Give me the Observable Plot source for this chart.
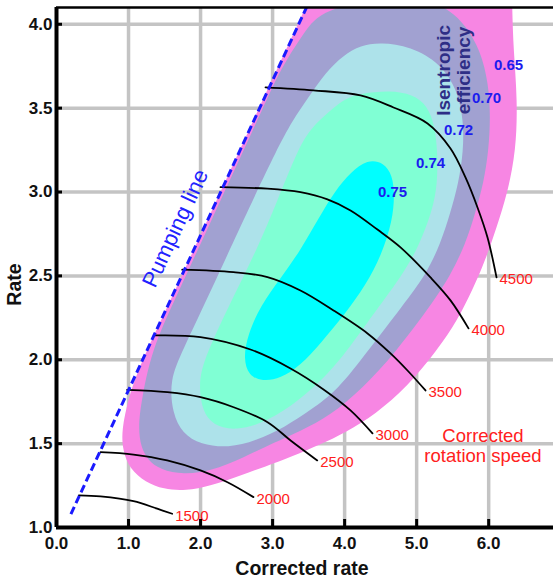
<!DOCTYPE html>
<html>
<head>
<meta charset="utf-8">
<script src="https://cdn.jsdelivr.net/npm/d3@7"></script>
<script src="https://cdn.jsdelivr.net/npm/@observablehq/plot@0.6"></script>
<style>
  html, body { margin: 0; padding: 0; background: #fff; }
  #chart svg { display: block; }
</style>
</head>
<body>
<div id="chart"></div>
<script>
// Compressor map: isentropic efficiency islands, corrected speed lines, surge (pumping) line.

const xTicks = [0, 1, 2, 3, 4, 5, 6];
const yTicks = [1.0, 1.5, 2.0, 2.5, 3.0, 3.5, 4.0];
const xGrid = [1, 2, 3, 4, 5, 6];
const yGrid = [1.5, 2.0, 2.5, 3.0, 3.5, 4.0];

// Efficiency island outlines [corrected rate, rate]
const eff065 = [[3.98,4.58],[3.762,4.381],[3.568,4.202],[3.374,4.023],[2.541,3.248],[1.583,2.354],[1.166,1.978],[1.000,1.775],[0.902,1.578],[0.920,1.459],[1.015,1.350],[1.236,1.270],[1.486,1.228],[1.791,1.218],[2.138,1.248],[2.554,1.310],[2.902,1.364],[3.249,1.420],[3.665,1.495],[4.012,1.567],[4.429,1.675],[4.873,1.840],[5.290,2.060],[5.560,2.230],[5.780,2.420],[5.960,2.600],[6.110,2.790],[6.260,2.990],[6.380,3.248],[6.400,3.546],[6.345,3.844],[6.325,4.100],[6.317,4.381],[6.31,4.58]];
const eff070 = [[3.124,3.743],[3.429,3.946],[3.596,4.040],[3.873,4.100],[4.262,4.135],[4.707,4.150],[5.192,4.135],[5.470,4.083],[5.678,3.993],[5.887,3.844],[5.997,3.648],[6.025,3.450],[6.000,3.248],[5.928,3.051],[5.817,2.880],[5.678,2.690],[5.470,2.503],[5.206,2.330],[4.707,2.044],[4.248,1.829],[3.804,1.668],[3.387,1.575],[3.013,1.505],[2.596,1.417],[2.138,1.335],[1.763,1.315],[1.444,1.345],[1.270,1.400],[1.170,1.480],[1.135,1.600],[1.180,1.757],[1.319,2.055],[1.638,2.354],[2.277,2.950],[2.915,3.546]];
const eff072 = [[3.984,3.815],[4.221,3.874],[4.498,3.892],[4.915,3.868],[5.331,3.767],[5.567,3.606],[5.650,3.427],[5.650,3.248],[5.581,3.051],[5.470,2.880],[5.330,2.690],[5.123,2.503],[4.817,2.330],[4.318,2.050],[3.901,1.817],[3.526,1.700],[3.179,1.600],[2.763,1.515],[2.388,1.475],[1.999,1.495],[1.749,1.561],[1.610,1.680],[1.569,1.877],[1.749,2.055],[2.082,2.354],[2.721,2.950],[3.054,3.248],[3.276,3.427],[3.499,3.564],[3.735,3.713]];
const eff074 = [[4.012,3.558],[4.221,3.588],[4.637,3.606],[4.942,3.582],[5.151,3.516],[5.248,3.397],[5.290,3.248],[5.290,3.051],[5.220,2.890],[5.026,2.670],[4.776,2.490],[4.498,2.330],[4.040,2.055],[3.735,1.900],[3.387,1.765],[2.929,1.630],[2.485,1.575],[2.166,1.610],[2.027,1.698],[1.985,1.817],[1.999,1.936],[2.166,2.115],[2.430,2.354],[2.777,2.652],[3.068,2.950],[3.346,3.248],[3.526,3.379],[3.804,3.487]];
const eff075 = [[4.318,3.194],[4.540,3.177],[4.665,3.099],[4.693,2.980],[4.665,2.831],[4.512,2.622],[4.290,2.443],[4.012,2.276],[3.665,2.097],[3.387,1.966],[3.110,1.888],[2.860,1.871],[2.666,1.906],[2.596,2.008],[2.652,2.145],[2.832,2.324],[3.110,2.485],[3.387,2.652],[3.637,2.843],[3.873,3.010],[4.082,3.117]];

const effLevels = [0.65, 0.70, 0.72, 0.74, 0.75];
const effColors = ["#f786e3", "#a1a1d1", "#ade2ea", "#80ffd4", "#00ffff"];
const effLabelX = [6.275, 5.970, 5.581, 5.192, 4.665];
const effLabelY = [3.755, 3.558, 3.367, 3.171, 2.998];

// Corrected speed lines
const speeds = [1500, 2000, 2500, 3000, 3500, 4000, 4500];
const n1500 = [[0.31,1.191],[0.611,1.185],[1.069,1.157],[1.398,1.112],[1.606,1.082]];
const n2000 = [[0.611,1.449],[1.069,1.435],[1.537,1.400],[1.999,1.340],[2.374,1.270],[2.735,1.181]];
const n2500 = [[0.98,1.821],[1.54,1.807],[2.0,1.777],[2.46,1.717],[2.93,1.628],[3.25,1.519],[3.62,1.40]];
const n3000 = [[1.351,2.145],[1.999,2.135],[2.693,2.061],[3.249,1.948],[3.707,1.823],[4.082,1.698],[4.387,1.561]];
const n3500 = [[1.745,2.537],[2.457,2.522],[2.929,2.493],[3.387,2.413],[3.846,2.294],[4.318,2.157],[4.637,2.038],[4.873,1.936],[5.123,1.817]];
const n4000 = [[2.277,3.029],[2.929,3.020],[3.387,2.999],[3.762,2.956],[4.082,2.890],[4.456,2.776],[4.776,2.670],[5.192,2.491],[5.470,2.354],[5.720,2.187]];
const n4500 = [[2.902,3.624],[3.568,3.606],[4.221,3.576],[4.679,3.504],[5.151,3.409],[5.470,3.260],[5.678,3.087],[5.845,2.908],[5.984,2.729],[6.109,2.491]];

// Pumping (surge) line
const pumpLine = [[0.2, 1.08], [3.47, 4.1]];

const speedCurves = [n1500, n2000, n2500, n3000, n3500, n4000, n4500];
const speedRows = speeds.flatMap((s, i) => speedCurves[i].map(([x, y]) => ({speed: s, x, y})));
const speedEnds = speeds.map((s, i) => {
  const p = speedCurves[i][speedCurves[i].length - 1];
  return {speed: s, x: p[0], y: p[1]};
});
const effOutlines = [eff065, eff070, eff072, eff074, eff075];
const effLabels = effLevels.map((v, i) => ({v, x: effLabelX[i], y: effLabelY[i]}));

const font = "'Liberation Sans', Arial, Helvetica, sans-serif";

const island = (pts, color) => Plot.line(pts, {
  x: d => d[0], y: d => d[1], fill: color, stroke: "none",
  curve: "basis-closed", clip: true
});

const chart = Plot.plot({
  width: 553,
  height: 583,
  marginLeft: 56,
  marginRight: 0,
  marginTop: 7,
  marginBottom: 56,
  x: {domain: [0, 6.9]},
  y: {domain: [1, 4.1]},
  style: {fontFamily: font, color: "#111", background: "#fff"},
  marks: [
    Plot.ruleX(xGrid, {stroke: "#c4c4c4", strokeWidth: 3.5}),
    Plot.ruleY(yGrid, {stroke: "#c4c4c4", strokeWidth: 3.5}),
    ...effOutlines.map((pts, i) => island(pts, effColors[i])),
    Plot.line(speedRows, {x: "x", y: "y", z: "speed", stroke: "#000", strokeWidth: 1.8, curve: "catmull-rom"}),
    Plot.line(pumpLine, {x: d => d[0], y: d => d[1], stroke: "#1a1aff", strokeWidth: 3, strokeDasharray: "8,4", strokeLinecap: "butt", clip: true}),
    Plot.text(speedEnds, {x: "x", y: "y", text: d => String(d.speed), textAnchor: "start", dx: 3, dy: 2, fill: "#ff2020", fontSize: 15}),
    Plot.text(effLabels, {x: "x", y: "y", text: d => d.v.toFixed(2), fill: "#1c1cee", fontSize: 15, fontWeight: "bold"}),
    Plot.text(["Isentropic\nefficiency"], {x: 5.512, y: 3.725, rotate: -90, fill: "#2e2e86", fontSize: 19, fontWeight: "bold", lineHeight: 1.05}),
    Plot.text(["Pumping line"], {x: 1.652, y: 2.783, rotate: -65, fill: "#2222ff", fontSize: 22}),
    Plot.text(["Corrected\nrotation speed"], {x: 5.921, y: 1.489, fill: "#ff2020", fontSize: 18.5, lineHeight: 1.1}),
    // frame lines and inward ticks
    Plot.ruleX([0], {stroke: "#000", strokeWidth: 4}),
    Plot.ruleY([1], {stroke: "#000", strokeWidth: 4}),
    Plot.ruleY([4.1], {stroke: "#000", strokeWidth: 2.5}),
    Plot.ruleX(xTicks, {stroke: "#000", strokeWidth: 3, insetTop: 512}),
    Plot.ruleY(yTicks, {stroke: "#000", strokeWidth: 3, insetRight: 491}),
    Plot.axisX(xTicks, {tickSize: 0, tickPadding: 9, tickFormat: d => d.toFixed(1), fontSize: 17, fontWeight: "bold", label: null}),
    Plot.axisY(yTicks, {tickSize: 0, tickPadding: 4, tickFormat: d => d.toFixed(1), fontSize: 17, fontWeight: "bold", label: null}),
    Plot.text(["Corrected rate"], {frameAnchor: "bottom", lineAnchor: "middle", dx: -3, dy: 41, fontSize: 19.5, fontWeight: "bold", fill: "#111"}),
    Plot.text(["Rate"], {frameAnchor: "left", textAnchor: "middle", dx: -42, dy: 17, rotate: -90, fontSize: 19.5, fontWeight: "bold", fill: "#111"})
  ]
});

document.getElementById("chart").appendChild(chart);
</script>
</body>
</html>
